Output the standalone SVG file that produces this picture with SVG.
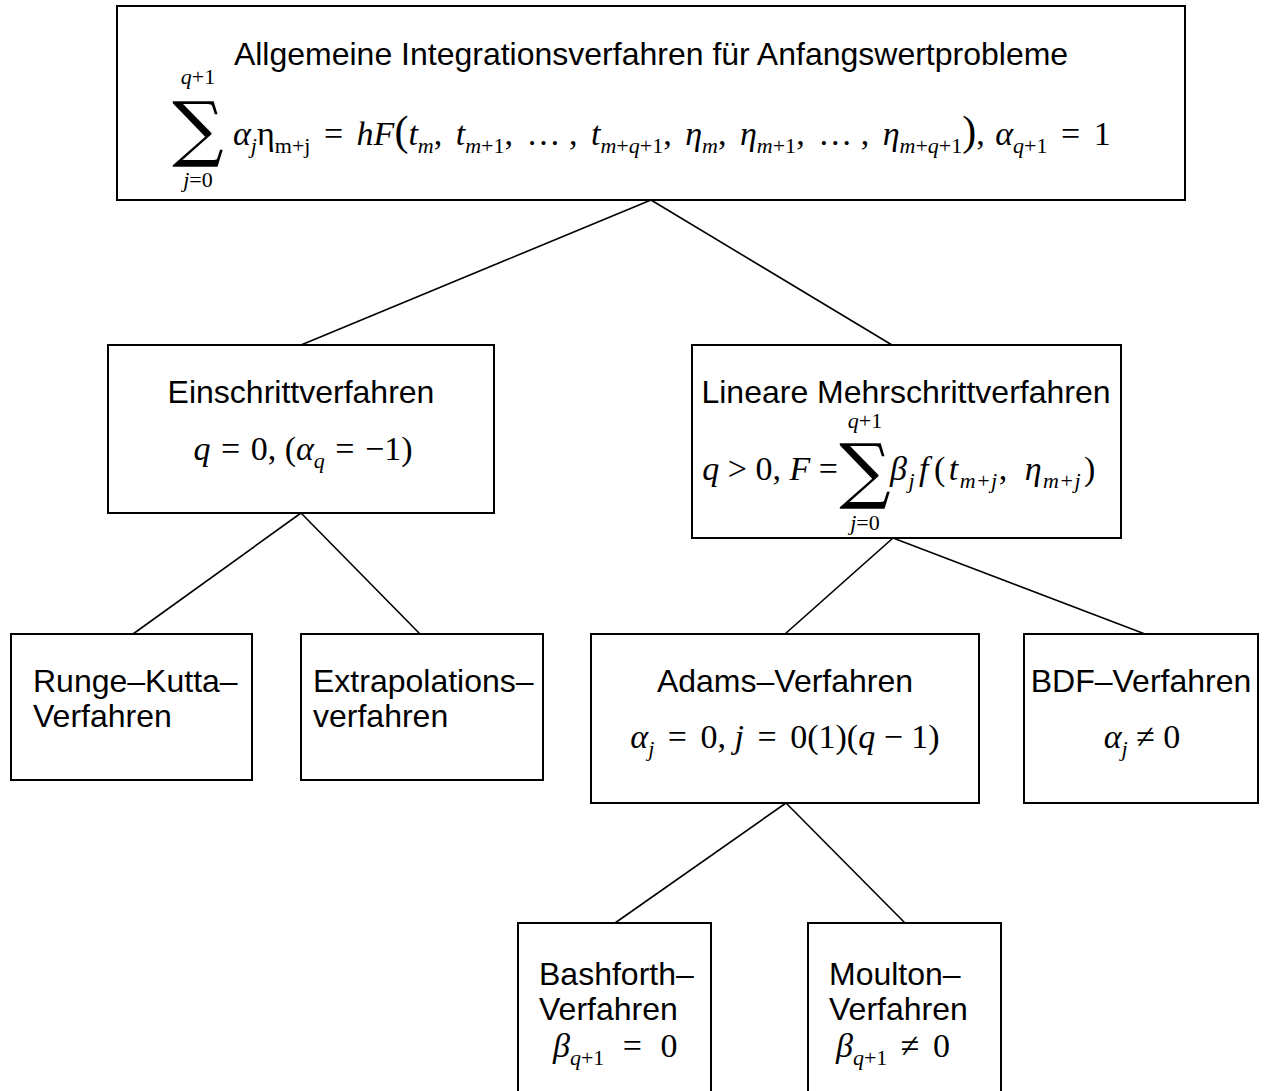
<svg xmlns="http://www.w3.org/2000/svg" width="1268" height="1091" viewBox="0 0 1268 1091">
<style>
.box{fill:#fff;stroke:#000;stroke-width:2}
.con line{stroke:#000;stroke-width:1.6}
.t{font-family:"Liberation Sans",Arial,sans-serif;font-size:32px;fill:#000}
.m{font-family:"Liberation Serif","DejaVu Serif",serif;font-size:34px;fill:#000}
.i{font-style:italic}
.s{font-size:22px}
.sum{font-family:"DejaVu Serif","Liberation Serif",serif;font-size:72px}
</style>
<rect width="1268" height="1091" fill="#fff"/>
<g class="con">
<line x1="651" y1="200" x2="301" y2="345"/>
<line x1="651" y1="200" x2="892" y2="345"/>
<line x1="301" y1="513" x2="133" y2="634"/>
<line x1="301" y1="513" x2="420" y2="634"/>
<line x1="893" y1="538" x2="785" y2="634"/>
<line x1="893" y1="538" x2="1145" y2="634"/>
<line x1="786" y1="803" x2="615" y2="923"/>
<line x1="786" y1="803" x2="905" y2="923"/>
</g>
<g id="root">
<rect class="box" x="117" y="6" width="1068" height="194"/>
<text class="t" x="651" y="65" text-anchor="middle">Allgemeine Integrationsverfahren für Anfangswertprobleme</text>
<text class="m s" x="198" y="84" text-anchor="middle"><tspan class="i">q</tspan>+1</text>
<text class="m sum" x="198" y="153" text-anchor="middle">∑</text>
<text class="m s" x="198" y="187" text-anchor="middle"><tspan class="i">j</tspan>=0</text>
<text class="m" x="233" y="145"><tspan class="i">α</tspan><tspan class="s i" dy="8">j</tspan><tspan dy="-8">η</tspan><tspan class="s" dy="8">m+j</tspan><tspan dy="-8" dx="5"> = </tspan><tspan class="i" dx="5">hF</tspan><tspan font-size="42">(</tspan><tspan class="i">t</tspan><tspan class="s i" dy="8">m</tspan><tspan dy="-8">, </tspan><tspan class="i" dx="5">t</tspan><tspan class="s" dy="8"><tspan class="i">m</tspan>+1</tspan><tspan dy="-8">, </tspan><tspan dx="5">… , </tspan><tspan class="i" dx="5">t</tspan><tspan class="s" dy="8"><tspan class="i">m</tspan>+<tspan class="i">q</tspan>+1</tspan><tspan dy="-8">, </tspan><tspan class="i" dx="5">η</tspan><tspan class="s i" dy="8">m</tspan><tspan dy="-8">, </tspan><tspan class="i" dx="5">η</tspan><tspan class="s" dy="8"><tspan class="i">m</tspan>+1</tspan><tspan dy="-8">, </tspan><tspan dx="5">… , </tspan><tspan class="i" dx="5">η</tspan><tspan class="s" dy="8"><tspan class="i">m</tspan>+<tspan class="i">q</tspan>+1</tspan><tspan dy="-8" font-size="42">)</tspan><tspan>, </tspan><tspan class="i" dx="2">α</tspan><tspan class="s" dy="8"><tspan class="i">q</tspan>+1</tspan><tspan dy="-8" dx="5"> = </tspan><tspan dx="5">1</tspan></text>
</g>
<g id="einschritt">
<rect class="box" x="108" y="345" width="386" height="168"/>
<text class="t" x="301" y="403" text-anchor="middle">Einschrittverfahren</text>
<text class="m" x="303" y="460" text-anchor="middle"><tspan class="i">q</tspan><tspan dx="2"> = </tspan><tspan dx="2">0, (</tspan><tspan class="i">α</tspan><tspan class="s i" dy="8">q</tspan><tspan dy="-8" dx="2"> = </tspan><tspan dx="2">−1)</tspan></text>
</g>
<g id="linear">
<rect class="box" x="692" y="345" width="429" height="193"/>
<text class="t" x="906" y="403" text-anchor="middle">Lineare Mehrschrittverfahren</text>
<text class="m s" x="865" y="428" text-anchor="middle"><tspan class="i">q</tspan>+1</text>
<text class="m sum" x="865" y="495" text-anchor="middle">∑</text>
<text class="m s" x="865" y="530" text-anchor="middle"><tspan class="i">j</tspan>=0</text>
<text class="m" x="838" y="480" text-anchor="end"><tspan class="i">q</tspan> &gt; 0, <tspan class="i">F</tspan> =</text>
<text class="m" x="890" y="480" letter-spacing="1.5"><tspan class="i">β</tspan><tspan class="s i" dy="8">j</tspan><tspan class="i" dy="-8" dx="3">f</tspan><tspan dx="4">(</tspan><tspan class="i" dx="2">t</tspan><tspan class="s" dy="8"><tspan class="i">m</tspan>+<tspan class="i">j</tspan></tspan><tspan dy="-8">, </tspan><tspan class="i" dx="6">η</tspan><tspan class="s" dy="8"><tspan class="i">m</tspan>+<tspan class="i">j</tspan></tspan><tspan dy="-8" dx="2">)</tspan></text>
</g>
<g id="runge">
<rect class="box" x="11" y="634" width="241" height="146"/>
<text class="t" x="33" y="692">Runge–Kutta–</text>
<text class="t" x="33" y="727">Verfahren</text>
</g>
<g id="extrapolation">
<rect class="box" x="301" y="634" width="242" height="146"/>
<text class="t" x="313" y="692">Extrapolations–</text>
<text class="t" x="313" y="727">verfahren</text>
</g>
<g id="adams">
<rect class="box" x="591" y="634" width="388" height="169"/>
<text class="t" x="785" y="692" text-anchor="middle">Adams–Verfahren</text>
<text class="m" x="785" y="748" text-anchor="middle"><tspan class="i">α</tspan><tspan class="s i" dy="8">j</tspan><tspan dy="-8" dx="5"> = </tspan><tspan dx="5">0, </tspan><tspan class="i">j</tspan><tspan dx="5"> = </tspan><tspan dx="5">0(1)(</tspan><tspan class="i">q</tspan> − 1)</text>
</g>
<g id="bdf">
<rect class="box" x="1024" y="634" width="234" height="169"/>
<text class="t" x="1141" y="692" text-anchor="middle">BDF–Verfahren</text>
<text class="m" x="1142" y="748" text-anchor="middle"><tspan class="i">α</tspan><tspan class="s i" dy="8">j</tspan><tspan dy="-8"> ≠ 0</tspan></text>
</g>
<g id="bashforth">
<rect class="box" x="518" y="923" width="193" height="175"/>
<text class="t" x="539" y="985">Bashforth–</text>
<text class="t" x="539" y="1020">Verfahren</text>
<text class="m" x="553" y="1057"><tspan class="i">β</tspan><tspan class="s" dy="8"><tspan class="i">q</tspan>+1</tspan><tspan dy="-8" dx="10"> = </tspan><tspan dx="10">0</tspan></text>
</g>
<g id="moulton">
<rect class="box" x="808" y="923" width="193" height="175"/>
<text class="t" x="829" y="985">Moulton–</text>
<text class="t" x="829" y="1020">Verfahren</text>
<text class="m" x="836" y="1057"><tspan class="i">β</tspan><tspan class="s" dy="8"><tspan class="i">q</tspan>+1</tspan><tspan dy="-8" dx="5"> ≠ </tspan><tspan dx="5">0</tspan></text>
</g>
</svg>
